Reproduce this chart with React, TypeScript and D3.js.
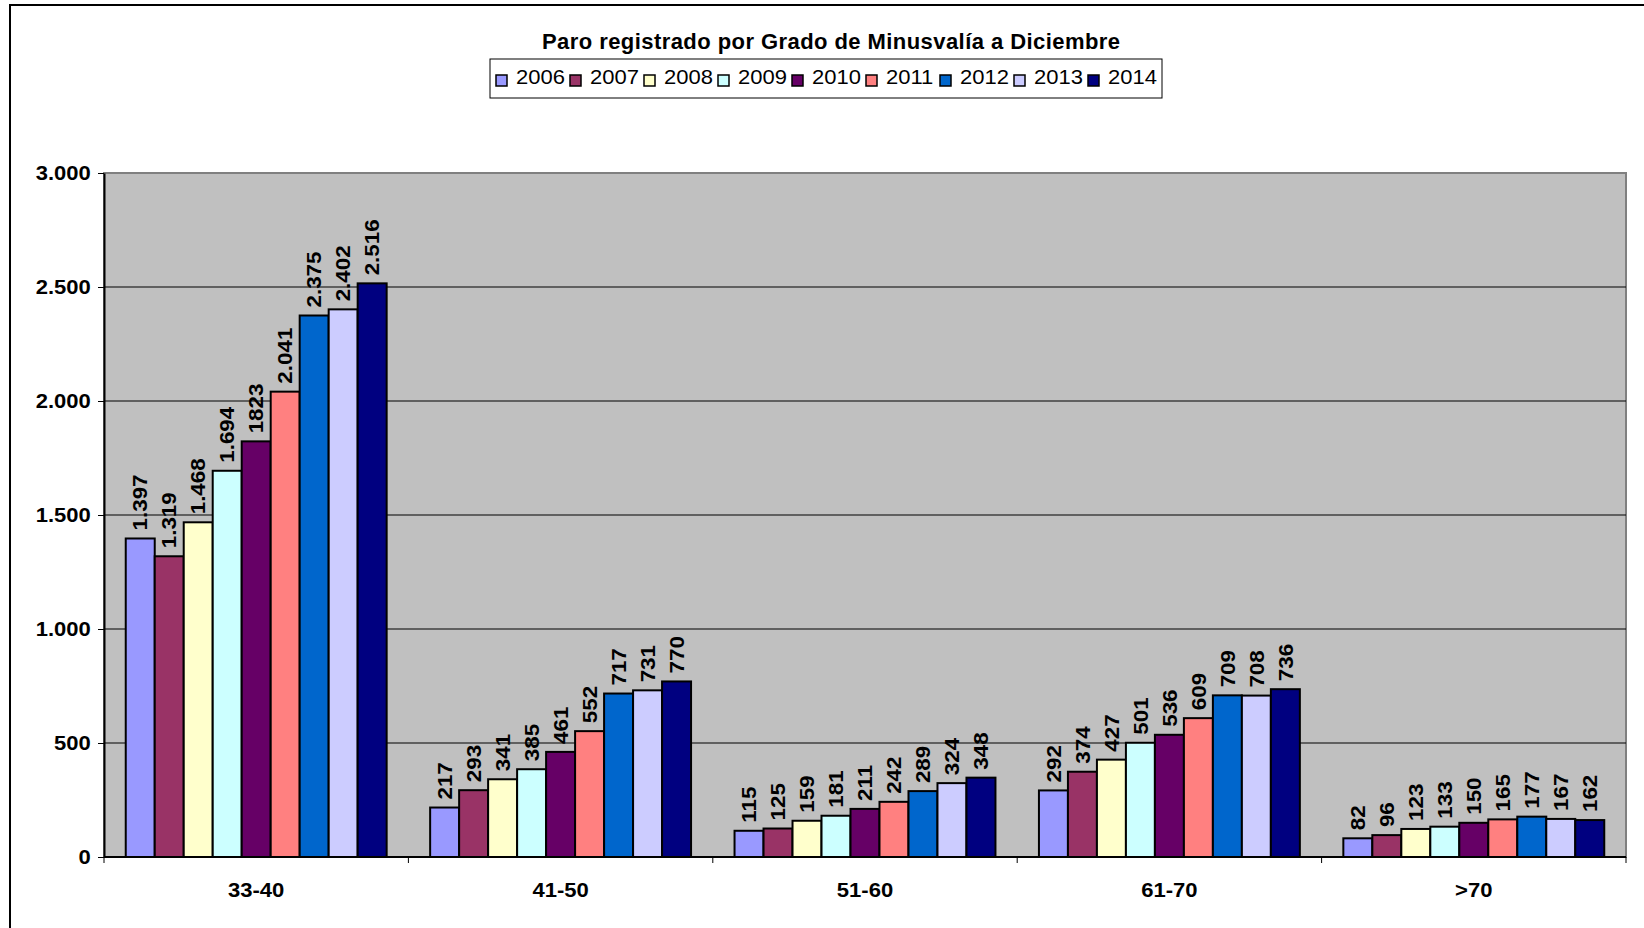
import React, { useEffect, useRef } from 'react';
import * as d3 from 'd3';

// Chart data
const categories = ['33-40', '41-50', '51-60', '61-70', '>70'];
const years = ['2006', '2007', '2008', '2009', '2010', '2011', '2012', '2013', '2014'];
const yearColors = ['#9999FF', '#993366', '#FFFFCC', '#CCFFFF', '#660066', '#FF8080', '#0066CC', '#CCCCFF', '#000080'];

const v3340 = [1397, 1319, 1468, 1694, 1823, 2041, 2375, 2402, 2516];
const v4150 = [217, 293, 341, 385, 461, 552, 717, 731, 770];
const v5160 = [115, 125, 159, 181, 211, 242, 289, 324, 348];
const v6170 = [292, 374, 427, 501, 536, 609, 709, 708, 736];
const v70 = [82, 96, 123, 133, 150, 165, 177, 167, 162];
const seriesByCategory = [v3340, v4150, v5160, v6170, v70];

// labels written without thousands separator in the source sheet ([category, year])
const plainLabels = [[0, 4]];

const yTicks = [0, 500, 1000, 1500, 2000, 2500, 3000];
const title = 'Paro registrado por Grado de Minusvalía a Diciembre';

const W = 1644;
const H = 928;
const plot = { left: 104, right: 1626, top: 173, bottom: 857 };
const FONT = 'Arial, "Liberation Sans", sans-serif';
// excel text comes out a little wider than the font metrics
const STRETCH = 1.1;

const esLocale = d3.formatLocale({ decimal: ',', thousands: '.', grouping: [3], currency: ['', ' €'] });
const fmt = esLocale.format(',d');

export default function App() {
    const svgRef = useRef<SVGSVGElement | null>(null);

    useEffect(() => {
        const svg = d3.select(svgRef.current);
        svg.selectAll('*').remove();

        const x0 = d3.scaleBand().domain(categories).range([plot.left, plot.right]).padding(0);
        const x1 = d3.scaleBand().domain(years).range([0, x0.bandwidth()]).paddingInner(0).paddingOuter(0.75);
        const y = d3.scaleLinear().domain([0, 3000]).range([plot.bottom, plot.top]);
        const color = d3.scaleOrdinal<string, string>().domain(years).range(yearColors);

        // chart area border
        svg.append('rect')
            .attr('x', 10).attr('y', 5)
            .attr('width', W).attr('height', H)
            .attr('fill', '#fff')
            .attr('stroke', '#000')
            .attr('stroke-width', 2);

        // plot background
        svg.append('rect')
            .attr('x', plot.left).attr('y', plot.top)
            .attr('width', plot.right - plot.left).attr('height', plot.bottom - plot.top)
            .attr('fill', '#C0C0C0')
            .attr('stroke', '#808080')
            .attr('stroke-width', 2);

        // gridlines
        svg.append('g')
            .selectAll('line')
            .data(yTicks.filter(t => t > 0 && t < 3000))
            .enter()
            .append('line')
                .attr('x1', plot.left).attr('x2', plot.right)
                .attr('y1', d => y(d)).attr('y2', d => y(d))
                .attr('stroke', '#000')
                .attr('stroke-width', 1);

        // bars
        const groups = svg.append('g')
            .selectAll('g')
            .data(categories)
            .enter()
            .append('g')
                .attr('transform', d => `translate(${x0(d)},0)`);

        const isPlain = (ci: number, yi: number) => plainLabels.some(p => p[0] === ci && p[1] === yi);

        groups.each(function (cat, ci) {
            const g = d3.select(this);
            const rows = years.map((yr, yi) => ({ yr, yi, v: seriesByCategory[ci][yi] }));

            g.selectAll('rect')
                .data(rows)
                .enter()
                .append('rect')
                    .attr('x', d => x1(d.yr)!)
                    .attr('y', d => y(d.v))
                    .attr('width', x1.bandwidth())
                    .attr('height', d => y(0) - y(d.v))
                    .attr('fill', d => color(d.yr))
                    .attr('stroke', '#000')
                    .attr('stroke-width', 2);

            g.selectAll('text')
                .data(rows)
                .enter()
                .append('text')
                    .attr('transform', d => `translate(${x1(d.yr)! + x1.bandwidth() / 2},${y(d.v) - 8}) rotate(-90) scale(1.12,1)`)
                    .attr('dy', '0.36em')
                    .attr('text-anchor', 'start')
                    .style('font-family', FONT)
                    .style('font-size', '20px')
                    .style('font-weight', 'bold')
                    .text(d => isPlain(ci, d.yi) ? String(d.v) : fmt(d.v));
        });

        // y axis
        const yAxis = d3.axisLeft(y).tickValues(yTicks).tickFormat(d => fmt(d as number)).tickSize(6).tickSizeOuter(0).tickPadding(6);
        const ya = svg.append('g')
            .attr('transform', `translate(${plot.left},0)`)
            .call(yAxis);
        ya.select('.domain').attr('stroke', '#000').attr('stroke-width', 2);
        ya.selectAll('.tick line').attr('stroke', '#000');
        ya.selectAll('.tick text')
            .attr('fill', '#000')
            .attr('x', -12)
            .attr('transform', `scale(${STRETCH},1)`)
            .style('font-family', FONT)
            .style('font-size', '20px')
            .style('font-weight', 'bold');

        // x axis
        const xAxis = d3.axisBottom(x0).tickSize(0).tickPadding(25);
        const xa = svg.append('g')
            .attr('transform', `translate(0,${plot.bottom})`)
            .call(xAxis);
        xa.select('.domain').remove();
        xa.selectAll('.tick text')
            .attr('fill', '#000')
            .attr('transform', `scale(1.05,1)`)
            .style('font-family', FONT)
            .style('font-size', '21px')
            .style('font-weight', 'bold');

        svg.append('line')
            .attr('x1', plot.left).attr('x2', plot.right)
            .attr('y1', plot.bottom).attr('y2', plot.bottom)
            .attr('stroke', '#000').attr('stroke-width', 2);

        svg.append('g')
            .selectAll('line')
            .data([...categories.map(c => x0(c)!), plot.right])
            .enter()
            .append('line')
                .attr('x1', d => d).attr('x2', d => d)
                .attr('y1', plot.bottom).attr('y2', plot.bottom + 6)
                .attr('stroke', '#000');

        // title
        svg.append('text')
            .attr('x', 831)
            .attr('y', 49)
            .attr('text-anchor', 'middle')
            .attr('textLength', 578)
            .attr('lengthAdjust', 'spacing')
            .style('font-family', FONT)
            .style('font-size', '22px')
            .style('font-weight', 'bold')
            .text(title);

        // legend
        const legend = svg.append('g').attr('transform', 'translate(490,59)');
        legend.append('rect')
            .attr('width', 672).attr('height', 39)
            .attr('fill', '#fff')
            .attr('stroke', '#000')
            .attr('stroke-width', 1);

        const items = legend.selectAll('g.item')
            .data(years)
            .enter()
            .append('g')
                .attr('class', 'item')
                .attr('transform', (d, i) => `translate(${6 + i * 74},0)`);

        items.append('rect')
            .attr('y', 16)
            .attr('width', 11).attr('height', 11)
            .attr('fill', d => color(d))
            .attr('stroke', '#000')
            .attr('stroke-width', 1.5);

        items.append('text')
            .attr('x', 20 / STRETCH)
            .attr('y', 25)
            .attr('transform', `scale(${STRETCH},1)`)
            .style('font-family', FONT)
            .style('font-size', '20px')
            .text(d => d);
    });

    return (
        <div style={{ position: 'absolute', left: 0, top: 0 }}>
            <svg ref={svgRef} width={W} height={H} viewBox={`0 0 ${W} ${H}`} style={{ display: 'block' }} />
        </div>
    );
}
